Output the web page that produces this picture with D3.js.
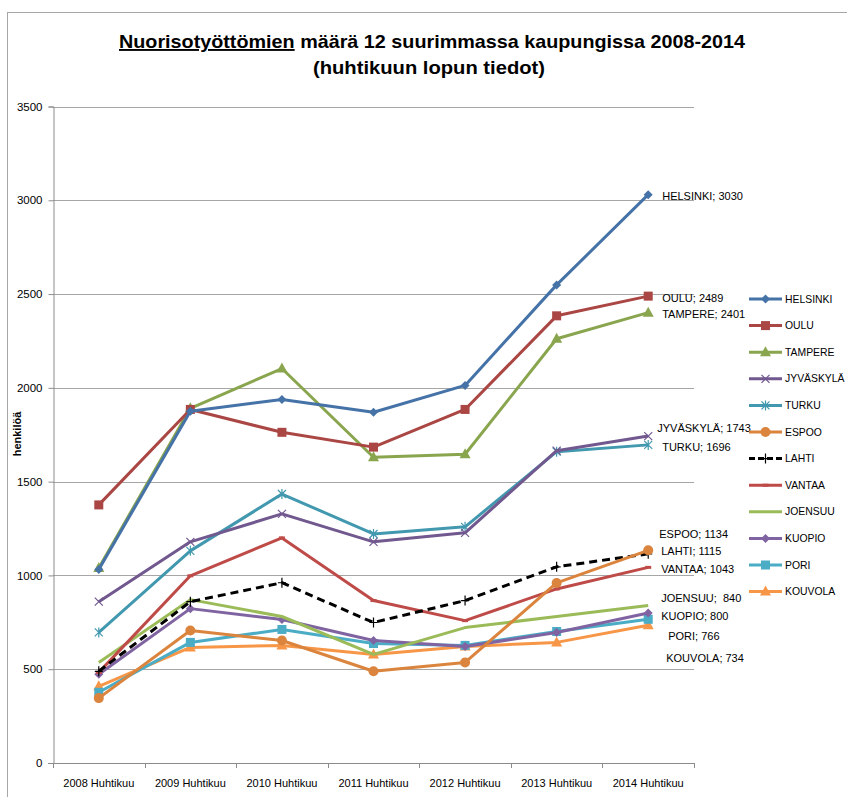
<!DOCTYPE html>
<html><head><meta charset="utf-8">
<script src="https://cdn.jsdelivr.net/npm/d3@7"></script>
<style>
html,body{margin:0;padding:0;background:#fff;}
svg{display:block;font-family:"Liberation Sans",Arial,sans-serif;}
</style></head>
<body>
<svg id="chart" width="847" height="797"></svg>
<script>
const categories = ["2008 Huhtikuu","2009 Huhtikuu","2010 Huhtikuu","2011 Huhtikuu","2012 Huhtikuu","2013 Huhtikuu","2014 Huhtikuu"];
const cities = ["HELSINKI","OULU","TAMPERE","JYVÄSKYLÄ","TURKU","ESPOO","LAHTI","VANTAA","JOENSUU","KUOPIO","PORI","KOUVOLA"];
const helsinki  = [1032, 1875, 1938, 1870, 2013, 2549, 3030];
const oulu      = [1376, 1885, 1763, 1684, 1885, 2384, 2489];
const tampere   = [1040, 1891, 2103, 1630, 1646, 2262, 2401];
const jyvaskyla = [860, 1179, 1328, 1179, 1227, 1665, 1743];
const turku     = [696, 1131, 1434, 1221, 1259, 1660, 1696];
const espoo     = [346, 706, 653, 489, 536, 960, 1134];
const lahti     = [489, 860, 961, 749, 866, 1046, 1115];
const vantaa    = [483, 998, 1200, 866, 759, 928, 1043];
const joensuu   = [536, 871, 781, 579, 722, 781, 840];
const kuopio    = [473, 823, 765, 653, 621, 696, 800];
const pori      = [377, 643, 712, 637, 627, 701, 766];
const kouvola   = [409, 616, 627, 579, 621, 643, 734];
const yTicks = [0, 500, 1000, 1500, 2000, 2500, 3000, 3500];
const endLabels = ["HELSINKI; 3030","OULU; 2489","TAMPERE; 2401","JYVÄSKYLÄ; 1743","TURKU; 1696","ESPOO; 1134","LAHTI; 1115","VANTAA; 1043","JOENSUU;  840","KUOPIO; 800","PORI; 766","KOUVOLA; 734"];

const seriesValues = [helsinki, oulu, tampere, jyvaskyla, turku, espoo, lahti, vantaa, joensuu, kuopio, pori, kouvola];

// styling (not data)
const colors = ["#4572A7","#AA4643","#89A54E","#71588F","#4198AF","#DB843D","#000000","#BE4B48","#9BBB59","#8064A2","#4BACC6","#F79646"];
const markers = ["diamond","square","triangle","x","star","circle","plus","dash","none","diamond","square","triangle"];
const labelNudge = [[14,1],[14,2],[14,2],[9,-8],[14,2],[11,-16],[13,-3],[13,2],[13,-7],[13,3],[20,17],[18,33]];

const svg = d3.select("#chart");
const margin = {left:53, right:694, top:106.5, bottom:763};

const x = d3.scaleBand().domain(categories).range([margin.left, margin.right]);
const y = d3.scaleLinear().domain([0,3500]).range([margin.bottom, margin.top]);

// frame
svg.append("rect").attr("x",7.5).attr("y",12.5).attr("width",900).attr("height",900)
  .attr("fill","none").attr("stroke","#A6A6A6").attr("stroke-width",1);

// title
const t1 = svg.append("text").attr("x",119).attr("y",48).attr("font-weight","bold").attr("font-size",19)
  .attr("textLength",626).attr("lengthAdjust","spacingAndGlyphs").attr("fill","#000");
t1.append("tspan").attr("text-decoration","underline").text("Nuorisotyöttömien");
t1.append("tspan").text(" määrä 12 suurimmassa kaupungissa 2008-2014");
svg.append("text").attr("x",313).attr("y",74).attr("font-weight","bold").attr("font-size",19)
  .attr("textLength",232).attr("lengthAdjust","spacingAndGlyphs").attr("fill","#000")
  .text("(huhtikuun lopun tiedot)");

// gridlines
svg.append("g").selectAll("line").data(yTicks.filter(d=>d>0)).join("line")
  .attr("x1",margin.left).attr("x2",margin.right)
  .attr("y1",d=>Math.round(y(d))+0.5).attr("y2",d=>Math.round(y(d))+0.5)
  .attr("stroke","#A6A6A6").attr("stroke-width",1);

// y axis
const yAxis = svg.append("g").attr("transform",`translate(${margin.left+0.5},0)`)
  .call(d3.axisLeft(y).tickValues(yTicks).tickSize(5).tickPadding(6).tickFormat(d3.format("d")));
yAxis.select(".domain").attr("stroke","#8C8C8C");
yAxis.selectAll(".tick line").attr("stroke","#8C8C8C");
yAxis.selectAll(".tick text").attr("font-size",11.5).attr("font-family","Liberation Sans, Arial, sans-serif").attr("fill","#000");

// x axis
const xAxis = svg.append("g").attr("transform",`translate(0,${margin.bottom+0.5})`)
  .call(d3.axisBottom(x).tickSize(0).tickPadding(16));
xAxis.select(".domain").attr("stroke","#8C8C8C").attr("d",`M${margin.left-5},0H${margin.right}`);
xAxis.selectAll(".tick text").attr("font-size",11).attr("font-family","Liberation Sans, Arial, sans-serif").attr("fill","#000");
svg.append("g").selectAll("line").data(d3.range(categories.length+1)).join("line")
  .attr("x1",i=>Math.round(margin.left + i*x.step())+0.5).attr("x2",i=>Math.round(margin.left + i*x.step())+0.5)
  .attr("y1",margin.bottom).attr("y2",margin.bottom+5).attr("stroke","#8C8C8C");

// y label
svg.append("text").attr("transform","translate(21,434) rotate(-90)").attr("text-anchor","middle")
  .attr("font-size",11).attr("font-weight","bold").text("henkilöä");

function drawMarker(g, type, color, cx, cy){
  const s = 4.5;
  switch(type){
    case "diamond":
      g.append("path").attr("d",`M${cx},${cy-s}L${cx+s},${cy}L${cx},${cy+s}L${cx-s},${cy}Z`).attr("fill",color); break;
    case "square":
      g.append("rect").attr("x",cx-4.5).attr("y",cy-4.5).attr("width",9).attr("height",9).attr("fill",color); break;
    case "triangle":
      g.append("path").attr("d",`M${cx},${cy-6}L${cx+5.5},${cy+4}L${cx-5.5},${cy+4}Z`).attr("fill",color); break;
    case "circle":
      g.append("circle").attr("cx",cx).attr("cy",cy).attr("r",5).attr("fill",color); break;
    case "x":
      g.append("path").attr("d",`M${cx-4},${cy-4}L${cx+4},${cy+4}M${cx-4},${cy+4}L${cx+4},${cy-4}`).attr("stroke",color).attr("stroke-width",1.2); break;
    case "star":
      g.append("path").attr("d",`M${cx-4},${cy-4}L${cx+4},${cy+4}M${cx-4},${cy+4}L${cx+4},${cy-4}M${cx},${cy-5}L${cx},${cy+5}`).attr("stroke",color).attr("stroke-width",1.2); break;
    case "plus":
      g.append("path").attr("d",`M${cx-4},${cy}L${cx+4},${cy}M${cx},${cy-5}L${cx},${cy+5}`).attr("stroke",color).attr("stroke-width",1.2); break;
    case "dash":
      g.append("path").attr("d",`M${cx-3},${cy}L${cx+3},${cy}`).attr("stroke",color).attr("stroke-width",3); break;
  }
}

const line = d3.line().x((d,i)=>x(categories[i])+x.bandwidth()/2).y(d=>y(d));
const plot = svg.append("g");
// draw in reverse order so first series on top
for (let k = seriesValues.length-1; k >= 0; k--){
  const g = plot.append("g");
  g.append("path").attr("d",line(seriesValues[k])).attr("fill","none")
    .attr("stroke",colors[k]).attr("stroke-width",3).attr("stroke-linejoin","round")
    .attr("stroke-dasharray", cities[k]==="LAHTI" ? "8,5" : null);
  seriesValues[k].forEach((v,i)=>drawMarker(g, markers[k], colors[k], x(categories[i])+x.bandwidth()/2, y(v)));
}

// end labels
const lastCat = categories[categories.length-1];
svg.append("g").selectAll("text").data(seriesValues).join("text")
  .attr("x",(d,k)=>x(lastCat)+x.bandwidth()/2+labelNudge[k][0])
  .attr("y",(d,k)=>y(d[d.length-1])+labelNudge[k][1])
  .attr("dy","0.35em").attr("font-size",11).attr("fill","#000")
  .attr("xml:space","preserve").style("white-space","pre")
  .text((d,k)=>endLabels[k]);

// legend
const lg = svg.append("g");
cities.forEach((c,k)=>{
  const ly = 299 + k*26.6;
  const g = lg.append("g");
  g.append("line").attr("x1",749).attr("x2",782).attr("y1",ly).attr("y2",ly)
    .attr("stroke",colors[k]).attr("stroke-width",3)
    .attr("stroke-dasharray", c==="LAHTI" ? "6,3" : null);
  drawMarker(g, markers[k], colors[k], 765.5, ly);
  g.append("text").attr("x",785).attr("y",ly).attr("dy","0.35em").attr("font-size",10.4).attr("fill","#000").text(c);
});
</script>
</body></html>
